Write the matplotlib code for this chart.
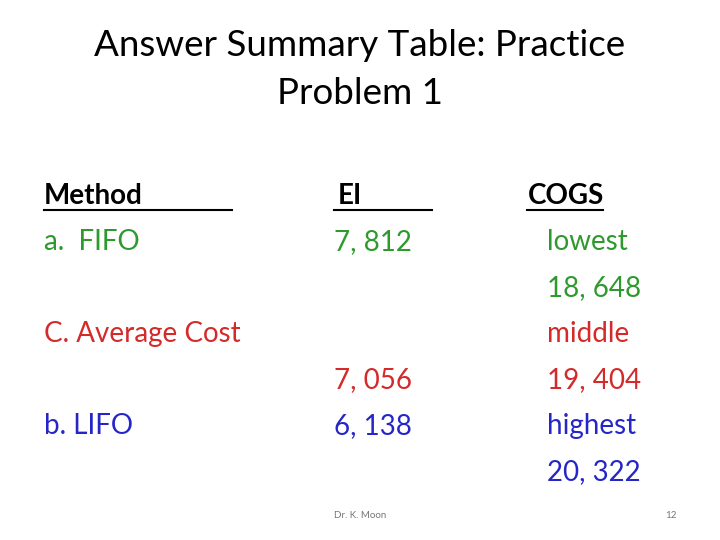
import matplotlib
matplotlib.use("Agg")
import matplotlib.pyplot as plt

title_lines = ["Answer Summary Table: Practice", "Problem 1"]
headers = ["Method", "EI", "COGS"]
methods = ["a.  FIFO", "C. Average Cost", "b. LIFO"]
method_rows = [1, 3, 5]
ei_values = ["7, 812", "7, 056", "6, 138"]
ei_rows = [1, 4, 5]
cogs_labels = ["lowest", "middle", "highest"]
cogs_values = ["18, 648", "19, 404", "20, 322"]
colors = ["#2e9a2e", "#d42a2a", "#2626c8"]
footer = "Dr. K. Moon"
page = "12"

plt.rcParams['font.family'] = ['Lato', 'DejaVu Sans']
fig = plt.figure(figsize=(7.2, 5.4), dpi=100)
ax = fig.add_axes([0, 0, 1, 1])
ax.set_xlim(0, 720); ax.set_ylim(540, 0); ax.axis('off')

for i, t in enumerate(title_lines):
    ax.text(360, 45 + 48 * i, t, ha='center', va='center', fontsize=26.5, color='black')

row_y = lambda r: 196 + 46 * r
fs = 20
ax.text(44, row_y(0), headers[0], ha='left', va='center', fontsize=fs, fontweight='bold')
ax.text(338, row_y(0), headers[1], ha='left', va='center', fontsize=fs, fontweight='bold')
ax.text(528, row_y(0), headers[2], ha='left', va='center', fontsize=fs, fontweight='bold')
for x0, x1 in [(44, 232), (334, 432), (527, 603)]:
    ax.plot([x0, x1], [row_y(0) + 14] * 2, color='black', lw=1.5)

for m, r, c in zip(methods, method_rows, colors):
    ax.text(44, row_y(r), m, ha='left', va='center', fontsize=fs, color=c)
for v, r, c in zip(ei_values, ei_rows, colors):
    ax.text(334, row_y(r), v, ha='left', va='center', fontsize=fs, color=c)
for i, (l, v, c) in enumerate(zip(cogs_labels, cogs_values, colors)):
    ax.text(547, row_y(1 + 2 * i), l, ha='left', va='center', fontsize=fs, color=c)
    ax.text(547, row_y(2 + 2 * i), v, ha='left', va='center', fontsize=fs, color=c)

ax.text(360, 515, footer, ha='center', va='center', fontsize=7, color='#777777')
ax.text(677, 515, page, ha='right', va='center', fontsize=7, color='#777777')
fig.savefig("out.png", dpi=100)
